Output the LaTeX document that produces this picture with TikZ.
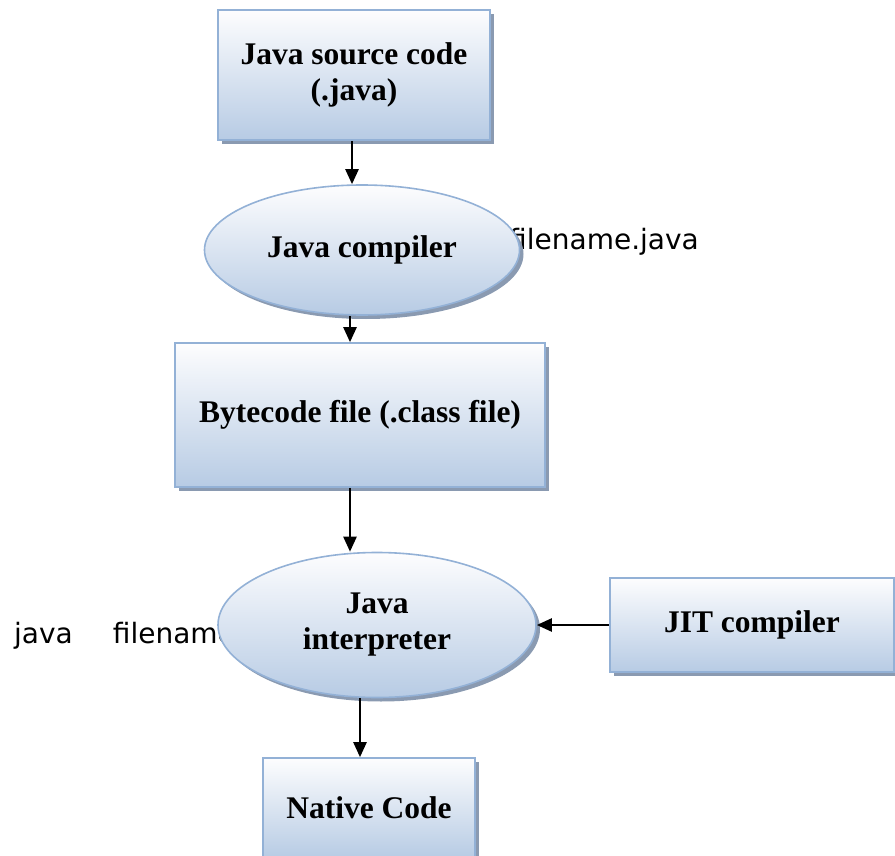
\documentclass[tikz,border=0pt]{standalone}
\usepackage{fontspec}
\setmainfont{Liberation Serif}
\newfontfamily\cmdfont{DejaVu Sans}
\usetikzlibrary{shapes.geometric,arrows.meta,shadows}

\definecolor{boxedge}{HTML}{93B1D6}
\definecolor{boxtop}{HTML}{FDFDFE}
\definecolor{boxbot}{HTML}{B7CBE4}
\definecolor{shadowc}{HTML}{8A9AB1}

\tikzset{
  shade base/.style={draw=boxedge, line width=1.6pt,
    top color=boxtop, bottom color=boxbot,
    align=center, inner sep=0pt,
    font=\bfseries\fontsize{31.5}{36}\selectfont,
    drop shadow={shadow xshift=4pt, shadow yshift=-4pt, fill=shadowc, opacity=1}},
  card/.style={shade base, rectangle},
  oval/.style={shade base, ellipse},
  flow/.style={line width=2.4pt, -{Triangle[width=13pt,length=15pt]}},
  cmd/.style={font=\cmdfont\fontsize{28}{32}\selectfont, inner sep=0pt}
}

\begin{document}
\begin{tikzpicture}[x=1pt,y=-1pt]
  \useasboundingbox (0,0) rectangle (895,856);

  % command lines, partly hidden behind the ovals
  \node[cmd, anchor=base west] (javac) at (509,249) {filename.java};
  \node[cmd, anchor=base west] (run) at (14,643) {java\hspace{40pt}filename};

  % processing stages
  \node[card, minimum width=272pt, minimum height=130pt] (src) at (354,75)
    {Java source code\\(.java)};
  \node[oval, minimum width=315pt, minimum height=130pt] (comp) at (362,250)
    {Java compiler};
  \node[card, minimum width=370pt, minimum height=144pt] (byte) at (360,415)
    {Bytecode file (.class file)};
  \node[oval, minimum width=318pt, minimum height=145pt] (interp) at (377,625)
    {Java\\interpreter};
  \node[card, minimum width=284pt, minimum height=94pt] (jit) at (752,625)
    {JIT compiler};
  \node[card, minimum width=212pt, minimum height=100pt] (native) at (369,808)
    {Native Code};

  % flow between stages
  \draw[flow] ([xshift=-2pt]src.south) -- ([xshift=-2pt]src.south |- comp.north);
  \draw[flow] ([xshift=-12pt]comp.south) -- ([xshift=-12pt]comp.south |- byte.north);
  \draw[flow] ([xshift=-10pt]byte.south) -- ([xshift=-10pt]byte.south |- interp.north);
  \draw[flow] (jit.west) -- (jit.west -| interp.east);
  \draw[flow] ([xshift=-17pt]interp.south) -- ([xshift=-17pt]interp.south |- native.north);
\end{tikzpicture}
\end{document}
